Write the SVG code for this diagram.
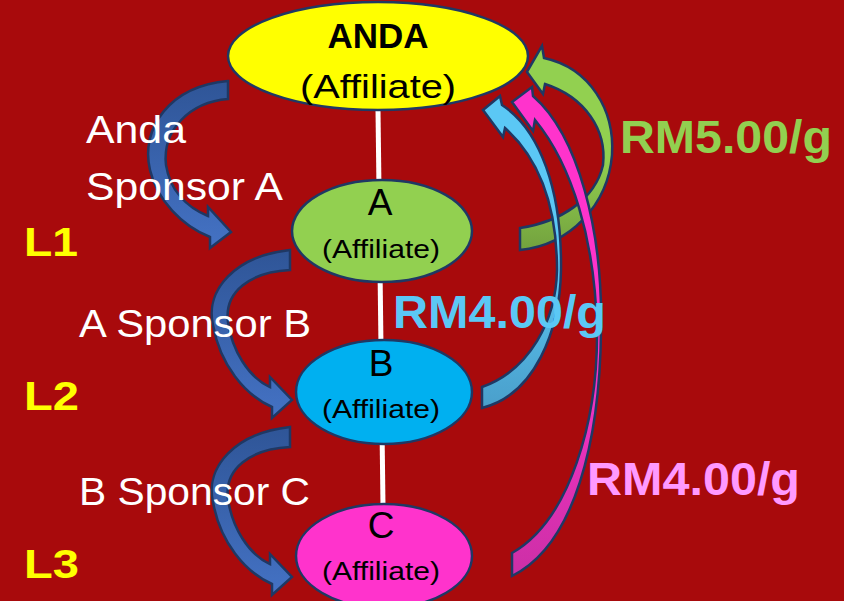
<svg xmlns="http://www.w3.org/2000/svg" width="844" height="601" viewBox="0 0 844 601">
<defs>
<linearGradient id="gBlueL" x1="0" y1="0" x2="0" y2="1"><stop offset="0" stop-color="#2F5597"/><stop offset="1" stop-color="#4472C4"/></linearGradient>
<linearGradient id="gGreen" x1="0" y1="0" x2="0" y2="1"><stop offset="0" stop-color="#92D050"/><stop offset="0.55" stop-color="#92D050"/><stop offset="1" stop-color="#73A23E"/></linearGradient>
<linearGradient id="gCyan" x1="0" y1="0" x2="0" y2="1"><stop offset="0" stop-color="#5BC8F5"/><stop offset="0.5" stop-color="#5BC8F5"/><stop offset="1" stop-color="#4A9FCB"/></linearGradient>
<linearGradient id="gPink" x1="0" y1="0" x2="0" y2="1"><stop offset="0" stop-color="#FF33CC"/><stop offset="0.5" stop-color="#FF33CC"/><stop offset="1" stop-color="#CC2FA6"/></linearGradient>
<style>
.node{stroke:#1F3864;stroke-width:2.5}
.arr{stroke:#1F3864;stroke-width:2.5;stroke-linejoin:miter}
.t{font-family:"Liberation Sans",Arial,sans-serif;text-anchor:middle;fill:#000}
.w{font-family:"Liberation Sans",Arial,sans-serif;fill:#FFFFFF;font-size:38px}
.lv{font-family:"Liberation Sans",Arial,sans-serif;font-weight:bold;fill:#FFFF00;font-size:40px}
.rm{font-family:"Liberation Sans",Arial,sans-serif;font-weight:bold;font-size:46px}
</style>
</defs>
<rect width="844" height="601" fill="#A80A0C"/>
<g id="connectors">
<line x1="378" y1="110" x2="383" y2="506" stroke="#FFFFFF" stroke-width="5"/>
<path class="arr" fill="url(#gBlueL)" d="M228,81 C170,86 140,128 150,170 C157,200 182,226 210,237 L210,248 L231,232 L208,207 L208,216 C186,207 170,190 166,165 C162,130 190,102 228,99 Z"/>
<path class="arr" fill="url(#gBlueL)" d="M290,250 C235,256 205,290 213,325 C220,365 245,395 272,407 L272,418 L292,400 L270,377 L270,387 C248,377 232,350 228,322 C224,292 250,272 290,270 Z"/>
<path class="arr" fill="url(#gBlueL)" d="M290,427 C235,433 205,467 213,502 C220,542 245,572 272,584 L272,595 L292,577 L270,554 L270,564 C248,554 232,527 228,499 C224,469 250,449 290,447 Z"/>
<path class="arr" fill="url(#gGreen)" d="M520,228 C560,222 595,200 603,165 C607,130 585,97 545,84 L543,94 L527,72 L542,46 L544,58 C590,68 615,110 612,155 C608,205 570,245 520,250 Z"/>
<path class="arr" fill="url(#gCyan)" d="M482,387 C530,370 556,320 557,270 C557,200 535,155 505,128 L503,137 L483,110 L500,96 L502,105 C540,130 562,190 561,270 C560,330 535,395 482,408 Z"/>
<path class="arr" fill="url(#gPink)" d="M512,553 C570,520 598,420 597,330 C595,240 572,165 535,120 L533,131 L512,102 L532,87 L533,96 C578,135 603,230 601,330 C600,440 575,545 512,576 Z"/>
</g>
<g id="anda">
<ellipse class="node" cx="378" cy="56" rx="150" ry="54" fill="#FFFF00"/>
<text class="t" x="378" y="48" font-size="35" font-weight="bold">ANDA</text>
<text class="t" x="378" y="98" font-size="34" textLength="156" lengthAdjust="spacingAndGlyphs">(Affiliate)</text>
</g>
<g id="nodeA">
<ellipse class="node" cx="382" cy="231" rx="90" ry="51" fill="#92D050"/>
<text class="t" x="380" y="215" font-size="37">A</text>
<text class="t" x="381" y="258" font-size="25" textLength="118" lengthAdjust="spacingAndGlyphs">(Affiliate)</text>
</g>
<g id="nodeB">
<ellipse class="node" cx="384" cy="392" rx="88" ry="52" fill="#00B0F0"/>
<text class="t" x="381" y="376" font-size="37">B</text>
<text class="t" x="381" y="418" font-size="25" textLength="118" lengthAdjust="spacingAndGlyphs">(Affiliate)</text>
</g>
<g id="nodeC">
<ellipse class="node" cx="384" cy="556" rx="88" ry="52" fill="#FF33CC"/>
<text class="t" x="381" y="538" font-size="37">C</text>
<text class="t" x="381" y="580" font-size="25" textLength="118" lengthAdjust="spacingAndGlyphs">(Affiliate)</text>
</g>
<g id="labels">
<text class="w" x="86" y="143" textLength="100" lengthAdjust="spacingAndGlyphs">Anda</text>
<text class="w" x="86" y="200" textLength="197" lengthAdjust="spacingAndGlyphs">Sponsor A</text>
<text class="w" x="79" y="337" textLength="232" lengthAdjust="spacingAndGlyphs">A Sponsor B</text>
<text class="w" x="79" y="505" textLength="231" lengthAdjust="spacingAndGlyphs">B Sponsor C</text>
<text class="lv" x="24" y="256" textLength="54" lengthAdjust="spacingAndGlyphs">L1</text>
<text class="lv" x="24" y="410" textLength="55" lengthAdjust="spacingAndGlyphs">L2</text>
<text class="lv" x="24" y="578" textLength="55" lengthAdjust="spacingAndGlyphs">L3</text>
<text class="rm" x="620" y="153" fill="#92D050" textLength="212" lengthAdjust="spacingAndGlyphs">RM5.00/g</text>
<text class="rm" x="393" y="328" fill="#5BC8F5" textLength="213" lengthAdjust="spacingAndGlyphs">RM4.00/g</text>
<text class="rm" x="587" y="495" fill="#FF99FF" textLength="213" lengthAdjust="spacingAndGlyphs">RM4.00/g</text>
</g>
</svg>
